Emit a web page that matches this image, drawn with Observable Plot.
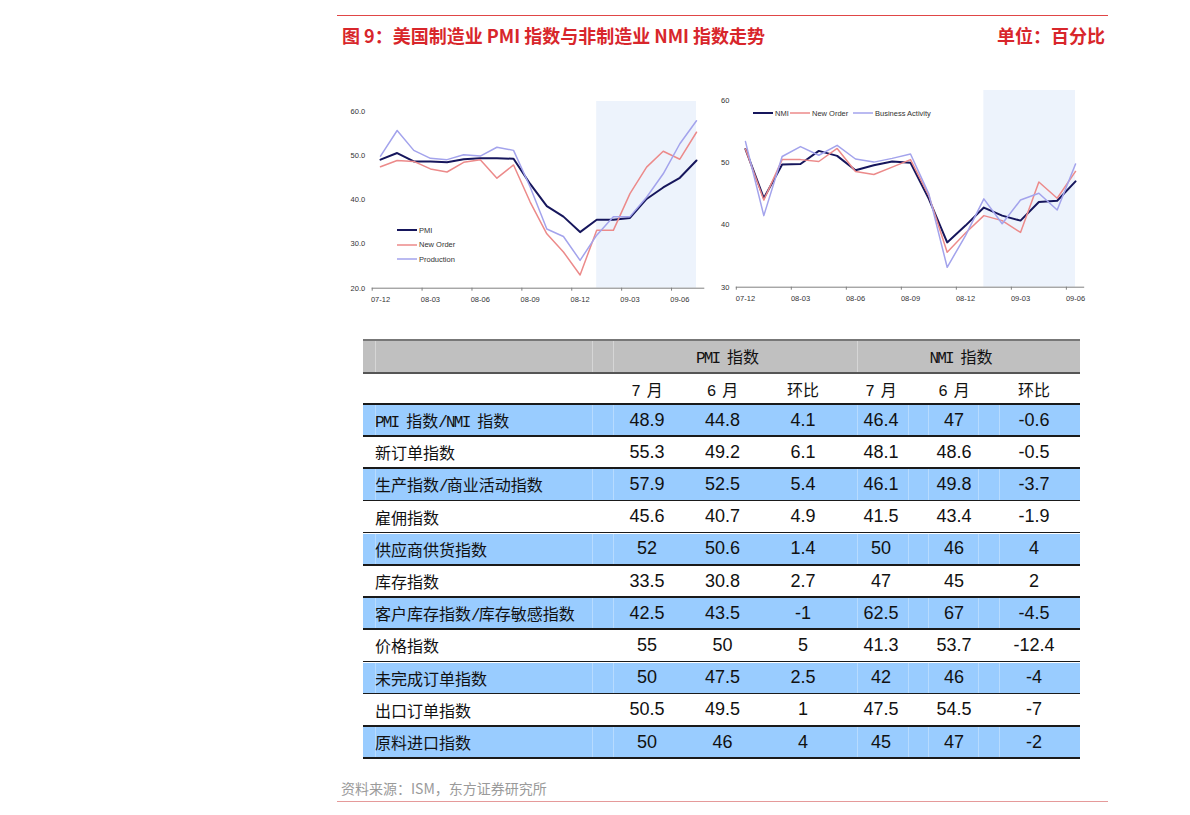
<!DOCTYPE html>
<html><head><meta charset="utf-8">
<script src="https://cdn.jsdelivr.net/npm/d3@7"></script>
<script src="https://cdn.jsdelivr.net/npm/@observablehq/plot@0.6"></script>
<style>
body{margin:0;background:#fff;}
#page{position:relative;width:1190px;height:815px;overflow:hidden;font-family:"Noto Sans CJK SC","Noto Sans",sans-serif;background:#fff;}
.abs{position:absolute;}
.lat{font-family:"Liberation Mono","DejaVu Sans Mono",monospace;font-size:16px;letter-spacing:-1.8px;white-space:pre;}
.row{position:absolute;left:363px;width:717px;display:flex;align-items:center;box-sizing:border-box;}
.cell{flex:none;text-align:center;}
.lab{padding-left:12px;text-align:left;box-sizing:border-box;font-size:16px;color:#111;}
.num{font-family:"Liberation Sans",Arial,sans-serif;font-size:18px;color:#111;}
.hd{font-size:16px;color:#111;}
.leg{position:absolute;font-family:"Liberation Sans",Arial,sans-serif;font-size:7.5px;color:#333;display:flex;align-items:center;white-space:nowrap;}
</style></head>
<body><div id="page"></div>
<script>
// ---------- data: manufacturing PMI (left chart) ----------
const monthsPMI = ["07-12","08-01","08-02","08-03","08-04","08-05","08-06","08-07","08-08","08-09","08-10","08-11","08-12","09-01","09-02","09-03","09-04","09-05","09-06","09-07"];
const pmiIndex      = [49.1,50.6,48.7,48.7,48.5,49.2,49.4,49.4,49.3,43.6,38.6,36.2,32.7,35.5,35.5,35.9,40.2,42.8,45.0,48.9];
const pmiNewOrder   = [47.5,48.9,48.7,47.0,46.3,48.5,49.1,44.9,47.9,39.5,32.3,28.2,23.0,33.1,33.1,41.4,47.4,51.0,49.2,55.3];
const pmiProduction = [49.9,55.7,51.2,49.4,49.1,50.2,49.9,51.9,51.2,42.9,33.4,31.7,26.3,32.0,36.2,36.2,40.6,45.9,52.7,57.9];
const pmiShade = ["09-01","09-07"];
const pmiYTicks = [20,30,40,50,60];
const pmiXLabels = ["07-12","08-03","08-06","08-09","08-12","09-03","09-06"];
const pmiSeriesNames = ["PMI","New Order","Production"];

// ---------- data: non-manufacturing NMI (right chart) ----------
const monthsNMI = ["07-12","08-01","08-02","08-03","08-04","08-05","08-06","08-07","08-08","08-09","08-10","08-11","08-12","09-01","09-02","09-03","09-04","09-05","09-06"];
const nmiIndex    = [52.2,44.3,49.7,49.8,51.9,51.1,48.8,49.6,50.2,50.0,44.2,37.2,39.9,42.8,41.5,40.7,43.7,43.9,47.0];
const nmiNewOrder = [52.2,44.0,50.5,50.5,50.2,52.3,48.6,48.1,49.3,50.5,44.7,35.6,38.7,41.5,40.7,38.8,46.9,44.3,48.6];
const nmiBusiness = [53.4,41.5,51.0,52.6,51.2,52.8,50.6,50.1,50.7,51.4,45.0,33.2,38.3,44.2,40.2,44.0,45.1,42.4,49.8];
const nmiShade = ["09-01","09-06"];
const nmiYTicks = [30,40,50,60];
const nmiXLabels = ["07-12","08-03","08-06","08-09","08-12","09-03","09-06"];
const nmiSeriesNames = ["NMI","New Order","Business Activity"];

// ---------- data: table ----------
const groupHeaders = ["PMI 指数","NMI 指数"];
const subHeaders = ["7 月","6 月","环比","7 月","6 月","环比"];
const rowLabels = ["PMI 指数/NMI 指数","新订单指数","生产指数/商业活动指数","雇佣指数","供应商供货指数","库存指数","客户库存指数/库存敏感指数","价格指数","未完成订单指数","出口订单指数","原料进口指数"];
const pmiJul = [48.9,55.3,57.9,45.6,52,33.5,42.5,55,50,50.5,50];
const pmiJun = [44.8,49.2,52.5,40.7,50.6,30.8,43.5,50,47.5,49.5,46];
const pmiMoM = [4.1,6.1,5.4,4.9,1.4,2.7,-1,5,2.5,1,4];
const nmiJul = [46.4,48.1,46.1,41.5,50,47,62.5,41.3,42,47.5,45];
const nmiJun = [47,48.6,49.8,43.4,46,45,67,53.7,46,54.5,47];
const nmiMoM = [-0.6,-0.5,-3.7,-1.9,4,2,-4.5,-12.4,-4,-7,-2];

const titleText = "图 9：美国制造业 PMI 指数与非制造业 NMI 指数走势";
const unitText = "单位：百分比";
const sourceText = "资料来源：ISM，东方证券研究所";

// ---------- styles ----------
const seriesColors = ["#16165c","#ec8a8a","#a3a3ec"];
const seriesWidths = [2,1.5,1.5];
const page = document.getElementById("page");

function el(tag, css, html){const e=document.createElement(tag);e.style.cssText=css;if(html!=null)e.innerHTML=html;page.appendChild(e);return e;}
function fmtLab(s){return "<span>"+s.replace(/[A-Za-z0-9\/]+ ?/g,m=>`<span class="lat">${m}</span>`)+"</span>";}

// title & rules
el("div","position:absolute;left:337px;top:15px;width:771px;height:1px;background:#e04646;");
el("div","position:absolute;left:342px;top:24px;font-size:18px;font-weight:700;color:#d8262b;line-height:22px;white-space:nowrap;",titleText);
el("div","position:absolute;right:85px;top:24px;font-size:18px;font-weight:700;color:#d8262b;line-height:22px;white-space:nowrap;",unitText);

function lineChart(cfg){
  const n = cfg.months.length;
  const idx = m => cfg.months.indexOf(m);
  const long = cfg.values.map((vals,s)=>vals.map((v,i)=>({i,v})));
  const marks = [
    Plot.rect([cfg.shade],{x1:d=>idx(d[0]),x2:d=>idx(d[1]),fill:"#edf3fc"}),
    Plot.ruleY([cfg.yDomain[0]],{stroke:"#808080",strokeWidth:1}),
    Plot.axisX({ticks:cfg.xLabels.map(m=>idx(m)-0.5),tickSize:3,tickFormat:()=>"",stroke:"#808080"}),
    Plot.axisX({ticks:cfg.xLabels.map(idx),tickSize:0,tickPadding:8,tickFormat:i=>cfg.months[i],fill:"#333"}),
    Plot.axisY({ticks:cfg.yTicks,tickSize:0,tickPadding:7,tickFormat:cfg.yFmt,fill:"#333"}),
    ...long.map((d,s)=>Plot.line(d,{x:"i",y:"v",stroke:seriesColors[s],strokeWidth:seriesWidths[s]}))
  ];
  const svg = Plot.plot({
    width:cfg.width,height:cfg.height,
    marginLeft:cfg.ml,marginRight:cfg.mr,marginTop:cfg.mt,marginBottom:cfg.mb,
    x:{type:"linear",domain:[-0.5,n-0.5],label:null},
    y:{type:"linear",domain:cfg.yDomain,range:cfg.yRange,label:null},
    style:{fontFamily:"'Liberation Sans',Arial,sans-serif",fontSize:"7.5px",color:"#333",background:"transparent",overflow:"visible"},
    marks
  });
  svg.style.position="absolute";
  svg.style.left=cfg.left+"px";
  svg.style.top=cfg.top+"px";
  page.appendChild(svg);
}

lineChart({months:monthsPMI,values:[pmiIndex,pmiNewOrder,pmiProduction],shade:pmiShade,yTicks:pmiYTicks,xLabels:pmiXLabels,
  yDomain:[20,60],yRange:[197.7,21],yFmt:d=>d.toFixed(1),
  width:380,height:225,ml:36.7,mr:10.7,mt:11,mb:27.3,left:335,top:90});
lineChart({months:monthsNMI,values:[nmiIndex,nmiNewOrder,nmiBusiness],shade:nmiShade,yTicks:nmiYTicks,xLabels:nmiXLabels,
  yDomain:[30,60],yRange:[201.7,15],yFmt:d=>String(d),
  width:400,height:225,ml:35.8,mr:15.8,mt:5,mb:23.3,left:700,top:85});

function legendItem(x,y,name,s){
  const d=document.createElement("div");
  d.className="leg";
  d.style.left=x+"px";d.style.top=(y-6)+"px";d.style.height="12px";
  d.innerHTML=`<svg width="21" height="12" style="display:block"><line x1="0" x2="20" y1="6" y2="6" stroke="${seriesColors[s]}" stroke-width="${seriesWidths[s]}"/></svg><span style="margin-left:1px">${name}</span>`;
  page.appendChild(d);
}
pmiSeriesNames.forEach((nm,s)=>legendItem(397,[230,244.5,259][s],nm,s));
nmiSeriesNames.forEach((nm,s)=>legendItem([753,790,853][s],113,nm,s));

// ---------- table ----------
const colW=[250,68,83,78,78,68,92];
const rowTop0=404, rowH=32.2;
el("div","position:absolute;left:363px;top:338.5px;width:717px;height:2px;background:#777;");
// header row 1
const h1=el("div","position:absolute;left:363px;top:340.5px;width:717px;height:31px;background:#c0c0c0;");
[12,229,250,494].forEach(x=>{const l=document.createElement("div");l.style.cssText=`position:absolute;left:${x}px;top:0;width:1px;height:31px;background:rgba(255,255,255,0.35);`;h1.appendChild(l);});
groupHeaders.forEach((g,k)=>{
  const left=k===0?colW[0]:colW[0]+colW[1]+colW[2]+colW[3];
  const w=k===0?colW[1]+colW[2]+colW[3]:colW[4]+colW[5]+colW[6];
  const c=document.createElement("div");
  c.className="hd";
  c.style.cssText+=`position:absolute;left:${left}px;width:${w}px;top:0;height:31px;display:flex;align-items:center;justify-content:center;`;
  c.innerHTML=fmtLab(g);h1.appendChild(c);
});
el("div","position:absolute;left:363px;top:371.5px;width:717px;height:2px;background:#555;");
// header row 2
{
  const r=el("div","");r.className="row";r.style.top="373.5px";r.style.height="30px";
  let html=`<div class="cell" style="width:${colW[0]}px"></div>`;
  subHeaders.forEach((h,j)=>{html+=`<div class="cell hd" style="width:${colW[j+1]}px">${fmtLab(h)}</div>`;});
  r.innerHTML=html;
}
el("div","position:absolute;left:363px;top:403px;width:717px;height:2px;background:#1a1a1a;");
rowLabels.forEach((lab,k)=>{
  const top=rowTop0+k*rowH;
  const r=el("div","");r.className="row";
  r.style.top=(top+1)+"px";r.style.height=(rowH-2)+"px";
  if(k%2===0)r.style.background="#99ccff";
  const vals=[pmiJul[k],pmiJun[k],pmiMoM[k],nmiJul[k],nmiJun[k],nmiMoM[k]];
  let html=`<div class="cell lab" style="width:${colW[0]}px">${fmtLab(lab)}</div>`;
  vals.forEach((v,j)=>{html+=`<div class="cell num" style="width:${colW[j+1]}px">${String(v)}</div>`;});
  r.innerHTML=html;
  if(k%2===0){[12,229,250,494,545,565,615,636].forEach(x=>{const l=document.createElement("div");l.style.cssText=`position:absolute;left:${x}px;top:0;width:1px;height:100%;background:rgba(255,255,255,0.3);`;r.appendChild(l);});}
  el("div",`position:absolute;left:363px;top:${top+rowH-1}px;width:717px;height:1.6px;background:#1a1a1a;`);
});

// source & bottom rule
el("div","position:absolute;left:341px;top:778px;font-size:14px;color:#9a9a9a;line-height:20px;white-space:nowrap;",sourceText);
el("div","position:absolute;left:337px;top:801px;width:771px;height:1px;background:#e59a9a;");
</script>
</body></html>
